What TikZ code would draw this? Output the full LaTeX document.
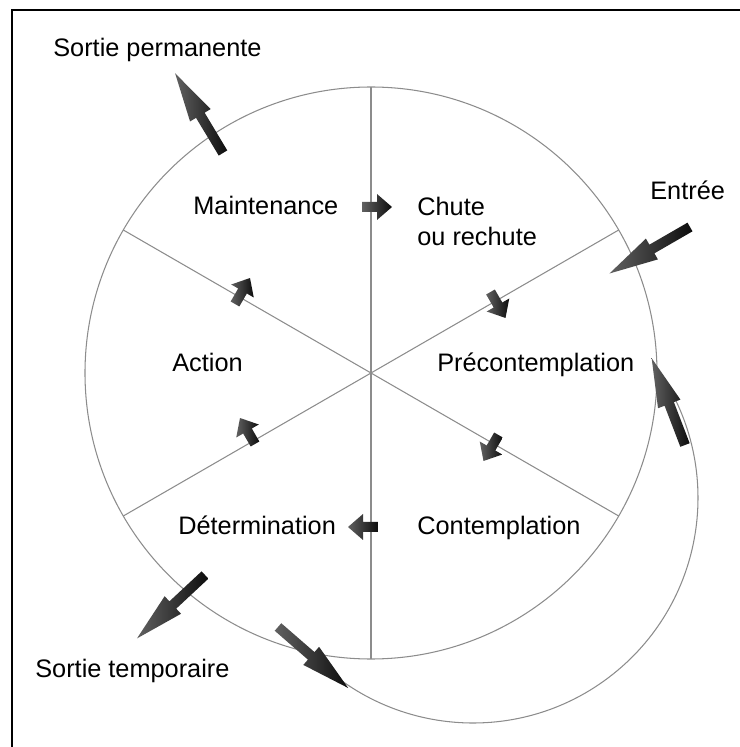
\documentclass[tikz,border=0pt]{standalone}
\usepackage{fontspec}
\setmainfont{Liberation Sans}
\tikzset{
  lbl/.style={anchor=base west,inner sep=0pt,font=\fontsize{14.4}{17.6}\selectfont},
  arr/.style={left color=black!62,right color=black!95,draw=none},
  ring/.style={draw=black!45,line width=0.6pt}
}
\newcommand{\bigarrow}[2]{\shade[arr,shift={#1},rotate=#2] (0,-0.1) -- (0.88,-0.1) -- (0.88,-0.24) -- (1.86,0) -- (0.88,0.24) -- (0.88,0.1) -- (0,0.1) -- cycle;}
\newcommand{\smallarrow}[2]{\shade[arr,shift={#1},rotate=#2] (-0.3,-0.1) -- (0,-0.1) -- (0,-0.26) -- (0.3,0) -- (0,0.26) -- (0,0.1) -- (-0.3,0.1) -- cycle;}
\begin{document}
\begin{tikzpicture}
    \useasboundingbox (0,0) rectangle (14.8,14.94);
    \draw[line width=1.4pt] (0.24,0) -- (0.24,14.74) -- (14.8,14.74);
    \draw[ring] (7.42,7.48) circle (5.72);
    \foreach \a in {30,90,...,330}
        \draw[ring] (7.42,7.48) -- ++(\a:5.72);
    \draw[ring] (9.46,4.98) ++(220:4.5) arc[start angle=220,end angle=397,radius=4.5];
    \draw (1.06,13.80) node[lbl](perm){Sortie permanente};
    \draw (3.86,10.64) node[lbl](maint){Maintenance};
    \draw (8.34,10.02) node[lbl,align=left](chute){Chute\\ou rechute};
    \draw (13.0,10.94) node[lbl](entree){Entrée};
    \draw (3.44,7.50) node[lbl](action){Action};
    \draw (8.74,7.50) node[lbl](precon){Précontemplation};
    \draw (3.56,4.26) node[lbl](deter){Détermination};
    \draw (8.34,4.26) node[lbl](contem){Contemplation};
    \draw (0.70,1.40) node[lbl](temp){Sortie temporaire};
    \bigarrow{(4.46,11.88)}{121}
    \bigarrow{(13.80,10.40)}{210}
    \bigarrow{(4.10,3.44)}{223}
    \bigarrow{(5.56,2.40)}{319}
    \bigarrow{(13.70,6.04)}{111}
    \smallarrow{(7.54,10.80)}{0}
    \smallarrow{(9.96,8.84)}{-60}
    \smallarrow{(9.82,5.98)}{240}
    \smallarrow{(7.26,4.40)}{180}
    \smallarrow{(4.95,6.32)}{120}
    \smallarrow{(4.85,9.12)}{60}
\end{tikzpicture}
\end{document}
